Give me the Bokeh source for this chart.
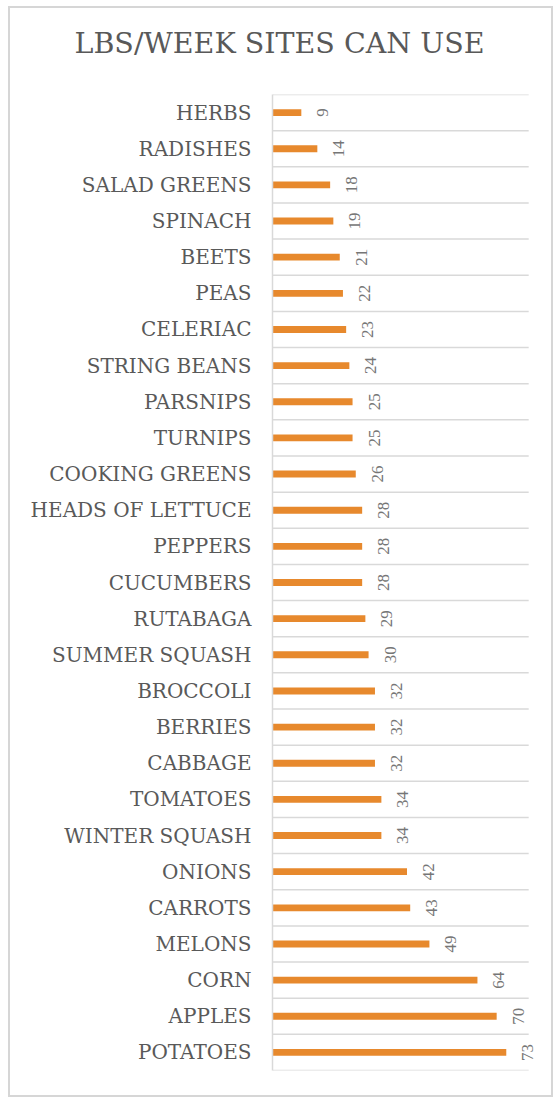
import math
from bokeh.plotting import figure
from bokeh.models import FactorRange, Range1d, ColumnDataSource, LabelSet
from bokeh.embed import file_html
from bokeh.resources import INLINE

# ---- data (top to bottom as shown) ----
categories = ["HERBS", "RADISHES", "SALAD GREENS", "SPINACH", "BEETS", "PEAS",
              "CELERIAC", "STRING BEANS", "PARSNIPS", "TURNIPS", "COOKING GREENS",
              "HEADS OF LETTUCE", "PEPPERS", "CUCUMBERS", "RUTABAGA", "SUMMER SQUASH",
              "BROCCOLI", "BERRIES", "CABBAGE", "TOMATOES", "WINTER SQUASH", "ONIONS",
              "CARROTS", "MELONS", "CORN", "APPLES", "POTATOES"]
lbs_per_week = [9, 14, 18, 19, 21, 22, 23, 24, 25, 25, 26, 28, 28, 28, 29, 30,
                32, 32, 32, 34, 34, 42, 43, 49, 64, 70, 73]
title_text = "LBS/WEEK SITES CAN USE"
axis_max = 80

FONT = "DejaVu Serif"
TEXT_COLOR = "#595959"
BAR_COLOR = "#E7892D"
GRID_COLOR = "#D9D9D9"

source = ColumnDataSource(dict(cat=categories, val=lbs_per_week,
                               lab=[str(v) for v in lbs_per_week]))

p = figure(width=545, height=1091,
           y_range=FactorRange(factors=list(reversed(categories))),
           x_range=Range1d(0, 84),
           output_backend="svg", toolbar_location=None,
           min_border_left=262, min_border_right=14,
           min_border_top=86, min_border_bottom=29,
           title=title_text)
p.margin = (6, 0, 0, 8)
p.styles = {"border": "2px solid #D6D6D6"}
p.outline_line_color = None
p.background_fill_color = "white"
p.border_fill_color = "white"

p.title.text_font = FONT
p.title.text_font_size = "28.5px"
p.title.text_font_style = "normal"
p.title.text_color = TEXT_COLOR
p.title.align = "left"
p.title.offset = -198
p.title.vertical_align = "top"
p.title.standoff = 0
p.title.padding = dict(top=0, right=0, bottom=33, left=0)

# horizontal separators between categories, ending at the value-axis maximum
bounds = list(range(len(categories) + 1))
p.segment(x0=[0] * len(bounds), x1=[axis_max] * len(bounds), y0=bounds, y1=bounds,
          line_color=GRID_COLOR, line_width=1.5)

p.hbar(y="cat", right="val", left=0, height=0.19, source=source,
       fill_color=BAR_COLOR, line_color=None)

labels = LabelSet(x="val", y="cat", text="lab", source=source, angle=math.pi / 2,
                  text_align="center", text_baseline="top", x_offset=16,
                  text_font=FONT, text_font_size="17px", text_color="#767676")
p.add_layout(labels)

p.xaxis.visible = False
p.xgrid.visible = False
p.ygrid.visible = False

ax = p.yaxis[0]
ax.axis_line_color = GRID_COLOR
ax.axis_line_width = 1.5
ax.major_tick_line_color = None
ax.minor_tick_line_color = None
ax.major_tick_out = 0
ax.major_tick_in = 0
ax.major_label_standoff = 21
ax.major_label_text_font = FONT
ax.major_label_text_font_size = "20px"
ax.major_label_text_color = TEXT_COLOR

open("out.html", "w").write(file_html(p, INLINE))
